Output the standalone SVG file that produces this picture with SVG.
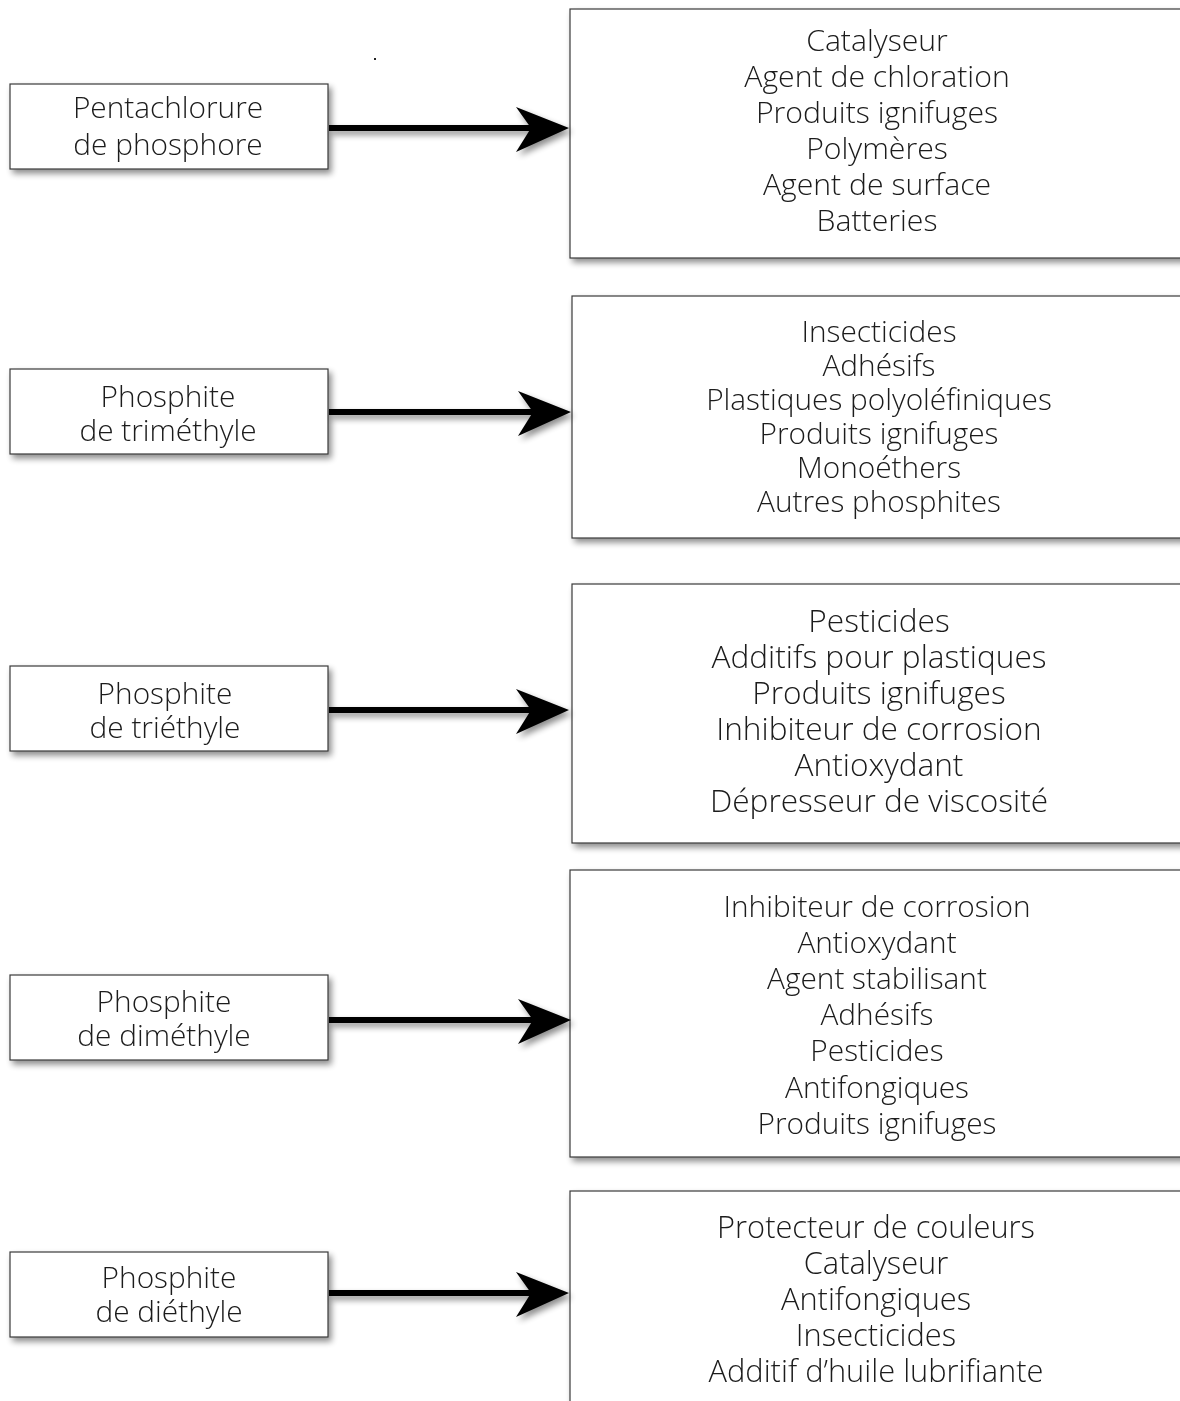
<svg xmlns="http://www.w3.org/2000/svg" width="1180" height="1401" viewBox="0 0 1180 1401">
  <style>
    .box { fill: #ffffff; stroke: #3a3a3a; stroke-width: 1.2; }
    .lbl { font-family: "Open Sans", "Liberation Sans", sans-serif; font-weight: 300; font-size: 29.8px; fill: #1a1a1a; text-anchor: middle; }
    .s1 { font-size: 30.2px; }
    .s3 { font-size: 31.6px; }
    .s5 { font-size: 30.8px; }
    .shaft { stroke: #000; stroke-width: 6; fill: none; }
    .head { fill: #000; }
  </style>
  <defs>
    <filter id="shadow" x="-10%" y="-10%" width="130%" height="140%">
      <feGaussianBlur in="SourceAlpha" stdDeviation="3"/>
      <feOffset dx="3" dy="4" result="b"/>
      <feComponentTransfer><feFuncA type="linear" slope="0.45"/></feComponentTransfer>
      <feMerge><feMergeNode/><feMergeNode in="SourceGraphic"/></feMerge>
    </filter>
    <symbol id="arrowhead" overflow="visible">
      <path class="head" d="M0,0 L-53,-21 L-38,0 L-53,24 Z"/>
    </symbol>
  </defs>
  <rect width="1180" height="1401" fill="#ffffff"/>
  <rect x="374" y="58" width="2" height="2" fill="#222"/>

  <!-- compounds -->
  <g id="pcl5" filter="url(#shadow)">
    <rect class="box" x="10" y="84" width="318" height="85"/>
    <text class="lbl" x="168" y="118">Pentachlorure</text>
    <text class="lbl" x="168" y="155">de phosphore</text>
  </g>
  <g id="tmp" filter="url(#shadow)">
    <rect class="box" x="10" y="369" width="318" height="85"/>
    <text class="lbl" x="168" y="407">Phosphite</text>
    <text class="lbl" x="168" y="441">de triméthyle</text>
  </g>
  <g id="tep" filter="url(#shadow)">
    <rect class="box" x="10" y="666" width="318" height="85"/>
    <text class="lbl" x="165" y="704">Phosphite</text>
    <text class="lbl" x="165" y="738">de triéthyle</text>
  </g>
  <g id="dmp" filter="url(#shadow)">
    <rect class="box" x="10" y="975" width="318" height="85"/>
    <text class="lbl" x="164" y="1012">Phosphite</text>
    <text class="lbl" x="164" y="1046">de diméthyle</text>
  </g>
  <g id="dep" filter="url(#shadow)">
    <rect class="box" x="10" y="1252" width="318" height="85"/>
    <text class="lbl" x="169" y="1288">Phosphite</text>
    <text class="lbl" x="169" y="1322">de diéthyle</text>
  </g>

  <!-- applications -->
  <g id="uses-pcl5" filter="url(#shadow)">
    <rect class="box" x="570" y="9" width="614" height="249"/>
    <text class="lbl s1" x="877" y="51">Catalyseur</text>
    <text class="lbl s1" x="877" y="87">Agent de chloration</text>
    <text class="lbl s1" x="877" y="123">Produits ignifuges</text>
    <text class="lbl s1" x="877" y="159">Polymères</text>
    <text class="lbl s1" x="877" y="195">Agent de surface</text>
    <text class="lbl s1" x="877" y="231">Batteries</text>
  </g>
  <g id="uses-tmp" filter="url(#shadow)">
    <rect class="box" x="572" y="296" width="612" height="242"/>
    <text class="lbl" x="879" y="342">Insecticides</text>
    <text class="lbl" x="879" y="376">Adhésifs</text>
    <text class="lbl" x="879" y="410">Plastiques polyoléfiniques</text>
    <text class="lbl" x="879" y="444">Produits ignifuges</text>
    <text class="lbl" x="879" y="478">Monoéthers</text>
    <text class="lbl" x="879" y="512">Autres phosphites</text>
  </g>
  <g id="uses-tep" filter="url(#shadow)">
    <rect class="box" x="572" y="584" width="612" height="259"/>
    <text class="lbl s3" x="879" y="632">Pesticides</text>
    <text class="lbl s3" x="879" y="668">Additifs pour plastiques</text>
    <text class="lbl s3" x="879" y="704">Produits ignifuges</text>
    <text class="lbl s3" x="879" y="740">Inhibiteur de corrosion</text>
    <text class="lbl s3" x="879" y="776">Antioxydant</text>
    <text class="lbl s3" x="879" y="812">Dépresseur de viscosité</text>
  </g>
  <g id="uses-dmp" filter="url(#shadow)">
    <rect class="box" x="570" y="870" width="614" height="287"/>
    <text class="lbl" x="877" y="917">Inhibiteur de corrosion</text>
    <text class="lbl" x="877" y="953">Antioxydant</text>
    <text class="lbl" x="877" y="989">Agent stabilisant</text>
    <text class="lbl" x="877" y="1025">Adhésifs</text>
    <text class="lbl" x="877" y="1061">Pesticides</text>
    <text class="lbl" x="877" y="1098">Antifongiques</text>
    <text class="lbl" x="877" y="1134">Produits ignifuges</text>
  </g>
  <g id="uses-dep" filter="url(#shadow)">
    <rect class="box" x="570" y="1191" width="614" height="230"/>
    <text class="lbl s5" x="876" y="1238">Protecteur de couleurs</text>
    <text class="lbl s5" x="876" y="1274">Catalyseur</text>
    <text class="lbl s5" x="876" y="1310">Antifongiques</text>
    <text class="lbl s5" x="876" y="1346">Insecticides</text>
    <text class="lbl s5" x="876" y="1382">Additif d’huile lubrifiante</text>
  </g>

  <!-- connectors -->
  <g id="connectors" filter="url(#shadow)">
    <line class="shaft" x1="329" y1="128" x2="535" y2="128"/>
    <use href="#arrowhead" x="569" y="128"/>
    <line class="shaft" x1="329" y1="412" x2="535" y2="412"/>
    <use href="#arrowhead" x="571" y="412"/>
    <line class="shaft" x1="329" y1="710" x2="535" y2="710"/>
    <use href="#arrowhead" x="569" y="710"/>
    <line class="shaft" x1="329" y1="1020" x2="535" y2="1020"/>
    <use href="#arrowhead" x="571" y="1020"/>
    <line class="shaft" x1="329" y1="1293" x2="535" y2="1293"/>
    <use href="#arrowhead" x="569" y="1293"/>
  </g>
</svg>
